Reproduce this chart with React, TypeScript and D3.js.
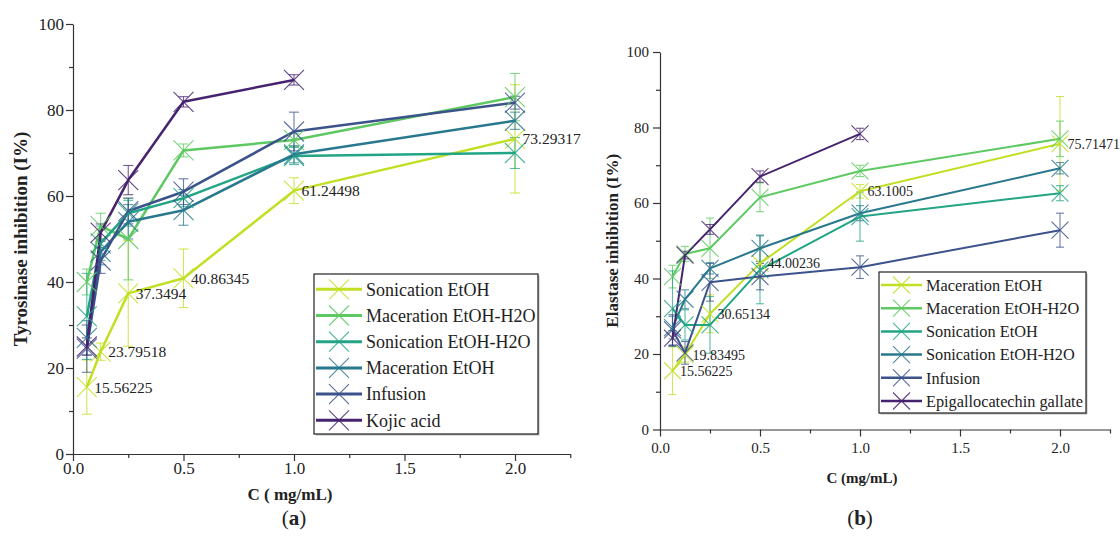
import React, { useEffect, useRef } from 'react';
import * as d3 from 'd3';

// shared x values and ticks
const concentrations = [0.0625, 0.125, 0.25, 0.5, 1, 2];
const xTicks = [0, 0.5, 1, 1.5, 2];
const xMinorTicks = [0.25, 0.75, 1.25, 1.75, 2.25];
const yTicks = [0, 20, 40, 60, 80, 100];
const yMinorTicks = [10, 30, 50, 70, 90];

const seriesColors = ['#c2df23', '#5ec962', '#22a585', '#29788e', '#3b528b', '#46236f'];

// (a) tyrosinase inhibition
const tyrNames = ['Sonication EtOH', 'Maceration EtOH-H2O', 'Sonication EtOH-H2O', 'Maceration EtOH', 'Infusion', 'Kojic acid'];
const tyrSonicationEtOH = [15.56225, 23.79518, 37.3494, 40.86345, 61.24498, 73.29317];
const tyrSonicationEtOHErr = [6.3, 2, 12.3, 6.8, 3, 12.6];
const tyrMacerationEtOHH2O = [40, 53, 50, 70.6, 73, 83];
const tyrMacerationEtOHH2OErr = [3, 3, 9.5, 1.5, 1.5, 5.5];
const tyrSonicationEtOHH2O = [32, 49, 56, 59.5, 69.3, 70];
const tyrSonicationEtOHH2OErr = [10, 4, 3, 2, 2, 3.6];
const tyrMacerationEtOH = [27, 47, 54, 56.7, 69.7, 77.5];
const tyrMacerationEtOHErr = [4, 3, 4, 3.5, 2, 2];
const tyrInfusion = [24.5, 45, 56.5, 61, 75, 81.7];
const tyrInfusionErr = [5.5, 3, 3, 3, 4.5, 1.5];
const tyrKojic = [25, 51.5, 63.7, 81.9, 87];
const tyrKojicErr = [2, 2, 3.4, 1.2, 1.2];

// (b) elastase inhibition
const elaNames = ['Maceration EtOH', 'Maceration EtOH-H2O', 'Sonication EtOH', 'Sonication EtOH-H2O', 'Infusion', 'Epigallocatechin gallate'];
const elaMacerationEtOH = [15.56225, 19.83495, 30.65134, 44.00236, 63.1005, 75.71471];
const elaMacerationEtOHErr = [6.3, 2, 5, 4, 1.8, 12.5];
const elaMacerationEtOHH2O = [40.5, 46.5, 48, 61.5, 68.5, 77];
const elaMacerationEtOHH2OErr = [3, 2, 8, 3.8, 1.5, 4.7];
const elaSonicationEtOH = [32, 27.7, 27.7, 42.3, 56.4, 62.6];
const elaSonicationEtOHErr = [10, 4, 7.5, 9, 6.5, 2];
const elaSonicationEtOHH2O = [27, 34.5, 42.7, 48, 57.3, 69.2];
const elaSonicationEtOHH2OErr = [3, 2.5, 1.5, 3.5, 2, 1.5];
const elaInfusion = [26.4, 20.3, 39, 40.5, 43, 52.8];
const elaInfusionErr = [4, 3, 5, 3.5, 3, 4.5];
const elaEGCG = [24.2, 46.2, 53, 67, 78.3];
const elaEGCGErr = [2, 1, 1.3, 1.5, 1.5];

const FONT = "'Liberation Serif', serif";

const panels = [
  {
    names: tyrNames,
    values: [tyrSonicationEtOH, tyrMacerationEtOHH2O, tyrSonicationEtOHH2O, tyrMacerationEtOH, tyrInfusion, tyrKojic],
    errors: [tyrSonicationEtOHErr, tyrMacerationEtOHH2OErr, tyrSonicationEtOHH2OErr, tyrMacerationEtOHErr, tyrInfusionErr, tyrKojicErr],
    xRange: [73, 570.25], yRange: [454, 24],
    tickFont: 17, xPad: 1, yPad: 2, labelFont: 15.5, legendFont: 18,
    lineWidth: 2.5, marker: 10, cap: 5,
    legend: { x: 314, y: 274, w: 224, h: 160, row0: 289.3, step: 26.2, lineX: [316, 362], textX: 366 },
    yTitle: 'Tyrosinase inhibition (I%)', yTitleX: 20, yTitleFont: 19,
    xTitle: 'C ( mg/mL)', xTitleX: 290, xTitleY: 494, xTitleFont: 17,
    tag: 'a', tagX: 294,
  },
  {
    names: elaNames,
    values: [elaMacerationEtOH, elaMacerationEtOHH2O, elaSonicationEtOH, elaSonicationEtOHH2O, elaInfusion, elaEGCG],
    errors: [elaMacerationEtOHErr, elaMacerationEtOHH2OErr, elaSonicationEtOHErr, elaSonicationEtOHH2OErr, elaInfusionErr, elaEGCGErr],
    xRange: [660, 1110], yRange: [429.5, 52],
    tickFont: 15, xPad: 5.5, yPad: 4, labelFont: 14, legendFont: 16.3,
    lineWidth: 2, marker: 8.5, cap: 4,
    legend: { x: 879, y: 272, w: 207, h: 141, row0: 285, step: 23.2, lineX: [881, 922], textX: 926 },
    yTitle: 'Elastase inhibition (I%)', yTitleX: 612, yTitleFont: 17,
    xTitle: 'C (mg/mL)', xTitleX: 862, xTitleY: 478, xTitleFont: 15,
    tag: 'b', tagX: 860,
  },
];

function drawPanel(root, p) {
  const g = root.append('g');
  const x = d3.scaleLinear().domain([0, 2.25]).range(p.xRange);
  const y = d3.scaleLinear().domain([0, 100]).range(p.yRange);
  const axisColor = '#333';

  // axes
  const xAxis = g.append('g')
    .attr('transform', `translate(0,${p.yRange[0]})`)
    .call(d3.axisBottom(x).tickValues(xTicks).tickFormat(d3.format('.1f')).tickSize(7).tickSizeOuter(0).tickPadding(p.xPad));
  g.append('g')
    .attr('transform', `translate(0,${p.yRange[0]})`)
    .call(d3.axisBottom(x).tickValues(xMinorTicks).tickFormat(() => '').tickSize(4).tickSizeOuter(0))
    .call(a => a.select('.domain').remove());
  const yAxis = g.append('g')
    .attr('transform', `translate(${p.xRange[0]},0)`)
    .call(d3.axisLeft(y).tickValues(yTicks).tickSize(7).tickSizeOuter(0).tickPadding(p.yPad));
  g.append('g')
    .attr('transform', `translate(${p.xRange[0]},0)`)
    .call(d3.axisLeft(y).tickValues(yMinorTicks).tickFormat(() => '').tickSize(4).tickSizeOuter(0))
    .call(a => a.select('.domain').remove());
  g.selectAll('.tick line, .domain').attr('stroke', axisColor).attr('stroke-width', 1.2);
  [xAxis, yAxis].forEach(a => a.attr('font-family', FONT).attr('font-size', p.tickFont)
    .selectAll('text').attr('fill', '#222'));

  // error bars
  p.values.forEach((vals, si) => {
    const color = seriesColors[si];
    const eg = g.append('g').attr('stroke', color).attr('stroke-opacity', 0.75).attr('stroke-width', 1.1);
    vals.forEach((v, i) => {
      const e = p.errors[si][i];
      const cx = x(concentrations[i]);
      eg.append('line').attr('x1', cx).attr('x2', cx).attr('y1', y(v - e)).attr('y2', y(v + e));
      [v - e, v + e].forEach(t => eg.append('line')
        .attr('x1', cx - p.cap).attr('x2', cx + p.cap).attr('y1', y(t)).attr('y2', y(t)));
    });
  });

  // lines
  const line = d3.line().x((d, i) => x(concentrations[i])).y(d => y(d));
  p.values.forEach((vals, si) => {
    g.append('path').datum(vals)
      .attr('fill', 'none').attr('stroke', seriesColors[si])
      .attr('stroke-width', p.lineWidth).attr('stroke-linejoin', 'round')
      .attr('d', line);
  });

  // X markers
  const r = p.marker;
  const xPath = `M${-r},${-r}L${r},${r}M${-r},${r}L${r},${-r}`;
  p.values.forEach((vals, si) => {
    g.append('g').selectAll('path').data(vals).join('path')
      .attr('transform', (d, i) => `translate(${x(concentrations[i])},${y(d)})`)
      .attr('d', xPath).attr('fill', 'none')
      .attr('stroke', seriesColors[si]).attr('stroke-opacity', 0.85).attr('stroke-width', 1.1);
  });

  // value labels of first series
  g.append('g').selectAll('text').data(p.values[0]).join('text')
    .attr('x', (d, i) => x(concentrations[i]) + 7.5)
    .attr('y', d => y(d))
    .attr('dy', '0.35em')
    .attr('font-family', FONT).attr('font-size', p.labelFont).attr('fill', '#222')
    .text(d => String(d));

  // legend
  const L = p.legend;
  const lg = g.append('g');
  lg.append('rect').attr('x', L.x + 1.5).attr('y', L.y + 1.5).attr('width', L.w).attr('height', L.h).attr('fill', '#bbb');
  lg.append('rect').attr('x', L.x).attr('y', L.y).attr('width', L.w).attr('height', L.h)
    .attr('fill', '#fff').attr('stroke', '#222').attr('stroke-width', 1.2);
  p.names.forEach((name, si) => {
    const ry = L.row0 + si * L.step;
    const mx = (L.lineX[0] + L.lineX[1]) / 2;
    lg.append('line').attr('x1', L.lineX[0]).attr('x2', L.lineX[1]).attr('y1', ry).attr('y2', ry)
      .attr('stroke', seriesColors[si]).attr('stroke-width', p.lineWidth + 0.5);
    lg.append('path').attr('transform', `translate(${mx},${ry})`).attr('d', xPath)
      .attr('fill', 'none').attr('stroke', seriesColors[si]).attr('stroke-opacity', 0.85).attr('stroke-width', 1.1);
    lg.append('text').attr('x', L.textX).attr('y', ry).attr('dy', '0.35em')
      .attr('font-family', FONT).attr('font-size', p.legendFont).attr('fill', '#222').text(name);
  });

  // titles
  const yMid = (p.yRange[0] + p.yRange[1]) / 2;
  g.append('text').attr('transform', `translate(${p.yTitleX},${yMid}) rotate(-90)`)
    .attr('text-anchor', 'middle').attr('dy', '0.35em')
    .attr('font-family', FONT).attr('font-size', p.yTitleFont).attr('font-weight', 'bold').attr('fill', '#222')
    .text(p.yTitle);
  g.append('text').attr('x', p.xTitleX).attr('y', p.xTitleY).attr('dy', '0.35em')
    .attr('text-anchor', 'middle')
    .attr('font-family', FONT).attr('font-size', p.xTitleFont).attr('font-weight', 'bold').attr('fill', '#222')
    .text(p.xTitle);
  const tag = g.append('text').attr('x', p.tagX).attr('y', 518).attr('dy', '0.35em')
    .attr('text-anchor', 'middle').attr('font-family', FONT).attr('font-size', 21).attr('fill', '#222');
  tag.append('tspan').text('(');
  tag.append('tspan').attr('font-weight', 'bold').text(p.tag);
  tag.append('tspan').text(')');
}

export default function App() {
  const svgRef = useRef(null);

  useEffect(() => {
    const svg = d3.select(svgRef.current);
    svg.selectAll('*').remove();
    panels.forEach(p => drawPanel(svg, p));
  }, []);

  return (
    <svg ref={svgRef} width={1120} height={553}
      style={{ position: 'absolute', left: 0, top: 0, background: '#fff' }} />
  );
}
